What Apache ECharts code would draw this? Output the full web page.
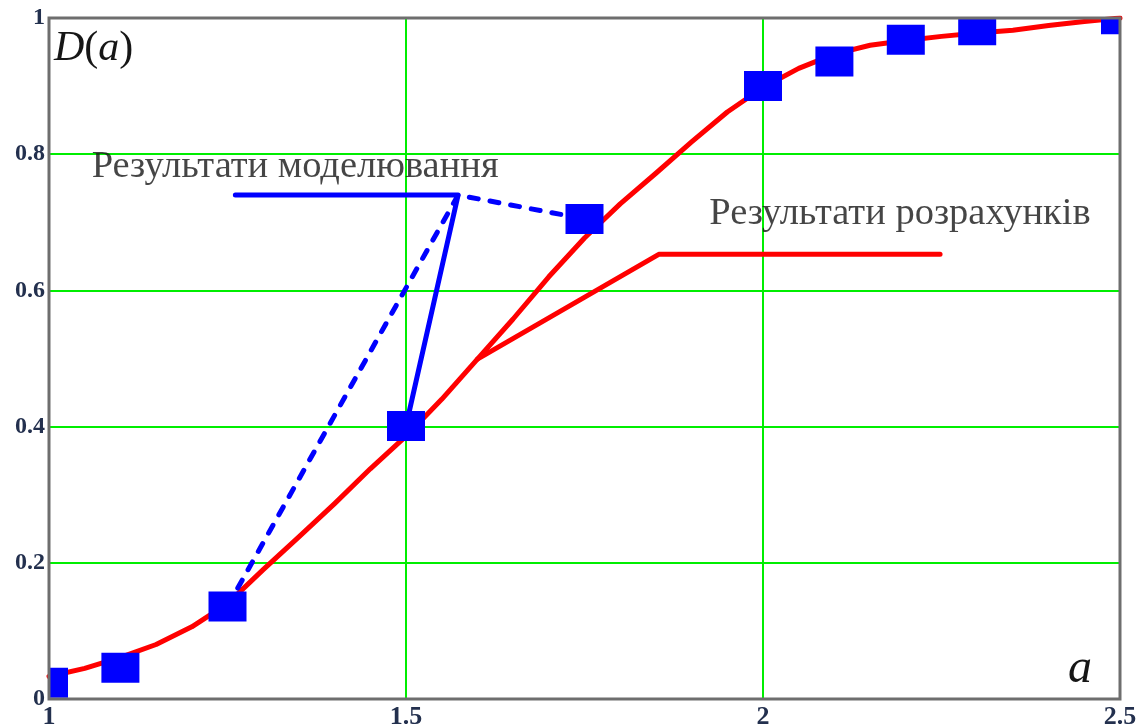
<!DOCTYPE html>
<html>
<head>
<meta charset="utf-8">
<script src="https://cdn.jsdelivr.net/npm/echarts@6/dist/echarts.min.js"></script>
<style>
  html, body { margin: 0; padding: 0; background: #ffffff; }
  #chart { width: 1148px; height: 726px; }
</style>
</head>
<body>
<div id="chart"></div>
<script>
// Calculated distribution function D(a)
const calcA = [1.00, 1.05, 1.10, 1.15, 1.20, 1.25, 1.30, 1.35, 1.40, 1.45, 1.50,
               1.55, 1.60, 1.65, 1.70, 1.75, 1.80, 1.85, 1.90, 1.95, 2.00,
               2.05, 2.10, 2.15, 2.20, 2.25, 2.30, 2.35, 2.40, 2.45, 2.50];
const calcD = [0.033, 0.045, 0.061, 0.080, 0.106, 0.140, 0.190, 0.238, 0.287, 0.338, 0.386,
               0.440, 0.499, 0.558, 0.620, 0.677, 0.727, 0.772, 0.818, 0.862, 0.898,
               0.926, 0.947, 0.960, 0.967, 0.973, 0.978, 0.982, 0.989, 0.995, 1.000];

// Simulation results
const simA = [1.00, 1.10, 1.25, 1.50, 1.75, 2.00, 2.10, 2.20, 2.30, 2.50];
const simD = [0.024, 0.046, 0.136, 0.401, 0.705, 0.900, 0.936, 0.968, 0.982, 0.998];

// Tick labels
const xTicks = ['1', '1.5', '2', '2.5'];
const yTicks = ['0', '0.2', '0.4', '0.6', '0.8', '1'];

// Callout texts
const simText = 'Результати моделювання';
const calcText = 'Результати розрахунків';

// Callout geometry, in axis units
const simElbow = [1.573, 0.740];
const simBarStart = [1.261, 0.740];
const simTextAt = [1.059, 0.781];
const calcBarEnd = [2.248, 0.653];
const calcElbow = [1.854, 0.653];
const calcJoin = 12;            // index into calcA / calcD where the callout meets the curve
const calcTextAt = [1.924, 0.712];

const serif = '"Liberation Serif", "Times New Roman", serif';
const tickColor = '#23304e';
const textColor = '#161616';

const chart = echarts.init(document.getElementById('chart'), null, { renderer: 'canvas' });

const pair = (xs, ys) => xs.map((x, i) => [x, ys[i]]);

chart.setOption({
  animation: false,
  backgroundColor: '#ffffff',
  grid: {
    left: 49, right: 28, top: 18, bottom: 27,
    containLabel: false,
    outerBoundsMode: 'none',
    show: true, z: 10,
    backgroundColor: 'transparent',
    borderColor: '#6e6e6e', borderWidth: 3
  },
  xAxis: {
    type: 'value', min: 1, max: 2.5, interval: 0.5,
    axisLine: { show: false },
    axisTick: { show: false },
    splitLine: { show: true, lineStyle: { color: '#00ee00', width: 2 } },
    axisLabel: {
      margin: 5, color: tickColor, fontFamily: serif, fontSize: 26, fontWeight: 'bold',
      showMinLabel: true, showMaxLabel: true,
      formatter: (v, i) => xTicks[i]
    }
  },
  yAxis: {
    type: 'value', min: 0, max: 1, interval: 0.2,
    axisLine: { show: false },
    axisTick: { show: false },
    splitLine: { show: true, lineStyle: { color: '#00ee00', width: 2 } },
    axisLabel: {
      margin: 4, color: tickColor, fontFamily: serif, fontSize: 24, fontWeight: 'bold',
      showMinLabel: true, showMaxLabel: true,
      formatter: (v, i) => yTicks[i]
    }
  },
  graphic: [
    {
      type: 'text', left: 54, top: 28, z: 20,
      style: {
        text: '{i|D}{n|(}{i|a}{n|)}',
        rich: {
          i: { fontFamily: serif, fontStyle: 'italic', fontSize: 42, fill: textColor, color: textColor },
          n: { fontFamily: serif, fontSize: 42, fill: textColor, color: textColor }
        }
      }
    },
    {
      type: 'text', left: 1068, top: 645, z: 20,
      style: { text: 'a', font: 'italic 48px ' + serif, fill: textColor }
    }
  ],
  series: [
    {
      name: 'calc',
      type: 'line',
      data: pair(calcA, calcD),
      showSymbol: false,
      clip: true,
      z: 3,
      lineStyle: { color: '#ff0000', width: 5, join: 'round', cap: 'round' }
    },
    {
      name: 'calcCallout',
      type: 'line',
      data: [calcBarEnd, calcElbow, [calcA[calcJoin], calcD[calcJoin]]],
      showSymbol: false,
      z: 3,
      lineStyle: { color: '#ff0000', width: 5, join: 'round', cap: 'round' }
    },
    {
      name: 'simCallout',
      type: 'line',
      data: [simBarStart, simElbow, [simA[3], simD[3]]],
      showSymbol: false,
      z: 4,
      lineStyle: { color: '#0000ff', width: 5, join: 'round', cap: 'round' }
    },
    {
      name: 'simCalloutDashed',
      type: 'line',
      data: [[simA[2], simD[2]], simElbow, [simA[4], simD[4]]],
      showSymbol: false,
      z: 4,
      lineStyle: { color: '#0000ff', width: 5, type: [9, 12], cap: 'round', join: 'round' }
    },
    {
      name: 'sim',
      type: 'custom',
      clip: true,
      z: 5,
      data: pair(simA, simD),
      renderItem: (params, api) => {
        const p = api.coord([api.value(0), api.value(1)]);
        const w = 38, h = 30;
        return {
          type: 'rect',
          shape: { x: p[0] - w / 2, y: p[1] - h / 2, width: w, height: h },
          style: { fill: '#0000ff' }
        };
      }
    },
    {
      name: 'texts',
      type: 'scatter',
      z: 6,
      symbolSize: 1,
      itemStyle: { color: 'rgba(0,0,0,0)' },
      data: [
        { value: simTextAt, name: simText },
        { value: calcTextAt, name: calcText }
      ],
      label: {
        show: true, position: 'right', distance: 0,
        formatter: p => p.name,
        fontFamily: serif, fontSize: 38.5, color: textColor
      }
    }
  ]
});
</script>
</body>
</html>
